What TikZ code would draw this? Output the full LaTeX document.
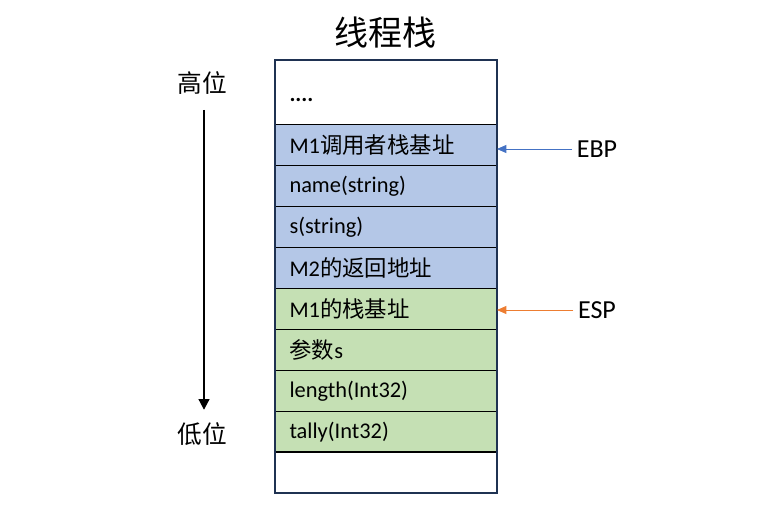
\documentclass[tikz,border=0pt]{standalone}
\usepackage{fontspec}
\setmainfont{Carlito}
\newfontfamily\cjk{Noto Sans CJK SC}
\usetikzlibrary{arrows.meta}

\definecolor{stackblue}{HTML}{B4C7E7}
\definecolor{stackgreen}{HTML}{C5E0B4}
\definecolor{framenavy}{HTML}{1F3252}
\definecolor{ebpblue}{HTML}{4472C4}
\definecolor{esporange}{HTML}{ED7D31}

\tikzset{
  cell/.style={draw=black, line width=0.75pt, anchor=north west,
    minimum height=30.75pt, text width=144.75pt, inner xsep=10.5pt,
    align=left, font=\fontsize{16.8}{19}\selectfont},
  side/.style={font=\cjk\fontsize{18.5}{20}\selectfont},
  reg/.style={font=\fontsize{19.5}{22}\selectfont}
}

\begin{document}
\begin{tikzpicture}[x=0.75pt, y=-0.75pt]
  \useasboundingbox (0,0) rectangle (776,518);
  % title
  \node[font=\cjk\fontsize{25.5}{28}\selectfont] (title) at (385,33) {线程栈};
  % stack cells
  \node[cell, minimum height=48pt, text depth=-3pt] (top) at (275,60) {\textbf{....}\strut};
  \node[cell, fill=stackblue] (r1) at (275,124) {M1{\cjk 调用者栈基址}};
  \node[cell, fill=stackblue] (r2) at (275,165) {name(string)};
  \node[cell, fill=stackblue] (r3) at (275,206) {s(string)};
  \node[cell, fill=stackblue] (r4) at (275,247) {M2{\cjk 的返回地址}};
  \node[cell, fill=stackgreen] (r5) at (275,288) {M1{\cjk 的栈基址}};
  \node[cell, fill=stackgreen] (r6) at (275,329) {{\cjk 参数}s};
  \node[cell, fill=stackgreen] (r7) at (275,370) {length(Int32)};
  \node[cell, fill=stackgreen] (r8) at (275,411) {tally(Int32)};
  \node[cell] (bot) at (275,451) {};
  % outer frame
  \draw[framenavy, line width=1.2pt] (top.north west) rectangle (bot.south east);
  % high / low
  \node[side] (hi) at (202,83) {高位};
  \node[side] (lo) at (202,434) {低位};
  \draw[-{Triangle[length=8pt,width=8pt]}, line width=1.5pt, shorten <=8pt, shorten >=6pt]
    (hi.south -| 204,0) -- (lo.north -| 204,0);
  % registers
  \node[reg] (ebp) at (597,149) {EBP};
  \node[reg] (esp) at (597,310) {ESP};
  \draw[ebpblue, line width=0.6pt, -{Triangle[length=7pt,width=6pt]}] (ebp.west) -- (ebp.west -| r1.east);
  \draw[esporange, line width=0.6pt, -{Triangle[length=7pt,width=6pt]}] (esp.west) -- (esp.west -| r5.east);
\end{tikzpicture}
\end{document}
